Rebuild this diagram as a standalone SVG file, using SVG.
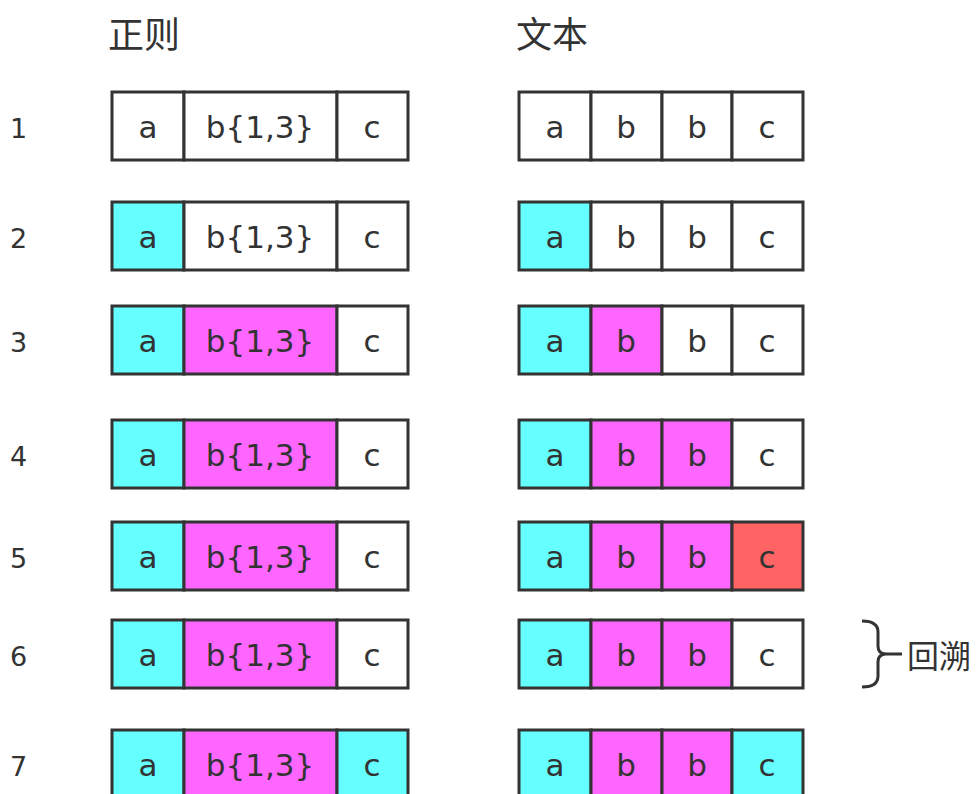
<svg xmlns="http://www.w3.org/2000/svg" width="979" height="794" viewBox="0 0 979 794">
<style>
.t{font-family:"DejaVu Sans","Noto Sans CJK SC",sans-serif;fill:#333;}
.h{font-size:36px;font-family:"Noto Sans CJK SC",sans-serif;}
.n{font-size:27px;}
.c{font-size:31px;text-anchor:middle;}
.b{stroke:#333;stroke-width:3;}
.w{fill:#fff}.cy{fill:#66ffff}.mg{fill:#ff66ff}.rd{fill:#ff6363}
</style>
<rect width="979" height="794" fill="#fff"/>
<text class="t h" x="108" y="48">正则</text>
<text class="t h" x="516" y="48">文本</text>
<g id="row1" transform="translate(0,92)">
<text class="t n" x="10" y="46">1</text>
<rect class="b w" x="112" y="0" width="72" height="68"/><rect class="b w" x="184" y="0" width="153" height="68"/><rect class="b w" x="337" y="0" width="71" height="68"/>
<text class="t c" x="148" y="46">a</text><text class="t c" x="260" y="46">b{1,3}</text><text class="t c" x="372" y="46">c</text>
<rect class="b w" x="519" y="0" width="72" height="68"/><rect class="b w" x="591" y="0" width="71" height="68"/><rect class="b w" x="662" y="0" width="70" height="68"/><rect class="b w" x="732" y="0" width="71" height="68"/>
<text class="t c" x="555" y="46">a</text><text class="t c" x="626" y="46">b</text><text class="t c" x="697" y="46">b</text><text class="t c" x="767" y="46">c</text>
</g>
<g id="row2" transform="translate(0,202)">
<text class="t n" x="10" y="46">2</text>
<rect class="b cy" x="112" y="0" width="72" height="68"/><rect class="b w" x="184" y="0" width="153" height="68"/><rect class="b w" x="337" y="0" width="71" height="68"/>
<text class="t c" x="148" y="46">a</text><text class="t c" x="260" y="46">b{1,3}</text><text class="t c" x="372" y="46">c</text>
<rect class="b cy" x="519" y="0" width="72" height="68"/><rect class="b w" x="591" y="0" width="71" height="68"/><rect class="b w" x="662" y="0" width="70" height="68"/><rect class="b w" x="732" y="0" width="71" height="68"/>
<text class="t c" x="555" y="46">a</text><text class="t c" x="626" y="46">b</text><text class="t c" x="697" y="46">b</text><text class="t c" x="767" y="46">c</text>
</g>
<g id="row3" transform="translate(0,306)">
<text class="t n" x="10" y="46">3</text>
<rect class="b cy" x="112" y="0" width="72" height="68"/><rect class="b mg" x="184" y="0" width="153" height="68"/><rect class="b w" x="337" y="0" width="71" height="68"/>
<text class="t c" x="148" y="46">a</text><text class="t c" x="260" y="46">b{1,3}</text><text class="t c" x="372" y="46">c</text>
<rect class="b cy" x="519" y="0" width="72" height="68"/><rect class="b mg" x="591" y="0" width="71" height="68"/><rect class="b w" x="662" y="0" width="70" height="68"/><rect class="b w" x="732" y="0" width="71" height="68"/>
<text class="t c" x="555" y="46">a</text><text class="t c" x="626" y="46">b</text><text class="t c" x="697" y="46">b</text><text class="t c" x="767" y="46">c</text>
</g>
<g id="row4" transform="translate(0,420)">
<text class="t n" x="10" y="46">4</text>
<rect class="b cy" x="112" y="0" width="72" height="68"/><rect class="b mg" x="184" y="0" width="153" height="68"/><rect class="b w" x="337" y="0" width="71" height="68"/>
<text class="t c" x="148" y="46">a</text><text class="t c" x="260" y="46">b{1,3}</text><text class="t c" x="372" y="46">c</text>
<rect class="b cy" x="519" y="0" width="72" height="68"/><rect class="b mg" x="591" y="0" width="71" height="68"/><rect class="b mg" x="662" y="0" width="70" height="68"/><rect class="b w" x="732" y="0" width="71" height="68"/>
<text class="t c" x="555" y="46">a</text><text class="t c" x="626" y="46">b</text><text class="t c" x="697" y="46">b</text><text class="t c" x="767" y="46">c</text>
</g>
<g id="row5" transform="translate(0,522)">
<text class="t n" x="10" y="46">5</text>
<rect class="b cy" x="112" y="0" width="72" height="68"/><rect class="b mg" x="184" y="0" width="153" height="68"/><rect class="b w" x="337" y="0" width="71" height="68"/>
<text class="t c" x="148" y="46">a</text><text class="t c" x="260" y="46">b{1,3}</text><text class="t c" x="372" y="46">c</text>
<rect class="b cy" x="519" y="0" width="72" height="68"/><rect class="b mg" x="591" y="0" width="71" height="68"/><rect class="b mg" x="662" y="0" width="70" height="68"/><rect class="b rd" x="732" y="0" width="71" height="68"/>
<text class="t c" x="555" y="46">a</text><text class="t c" x="626" y="46">b</text><text class="t c" x="697" y="46">b</text><text class="t c" x="767" y="46">c</text>
</g>
<g id="row6" transform="translate(0,620)">
<text class="t n" x="10" y="46">6</text>
<rect class="b cy" x="112" y="0" width="72" height="68"/><rect class="b mg" x="184" y="0" width="153" height="68"/><rect class="b w" x="337" y="0" width="71" height="68"/>
<text class="t c" x="148" y="46">a</text><text class="t c" x="260" y="46">b{1,3}</text><text class="t c" x="372" y="46">c</text>
<rect class="b cy" x="519" y="0" width="72" height="68"/><rect class="b mg" x="591" y="0" width="71" height="68"/><rect class="b mg" x="662" y="0" width="70" height="68"/><rect class="b w" x="732" y="0" width="71" height="68"/>
<text class="t c" x="555" y="46">a</text><text class="t c" x="626" y="46">b</text><text class="t c" x="697" y="46">b</text><text class="t c" x="767" y="46">c</text>
</g>
<g id="row7" transform="translate(0,730)">
<text class="t n" x="10" y="46">7</text>
<rect class="b cy" x="112" y="0" width="72" height="68"/><rect class="b mg" x="184" y="0" width="153" height="68"/><rect class="b cy" x="337" y="0" width="71" height="68"/>
<text class="t c" x="148" y="46">a</text><text class="t c" x="260" y="46">b{1,3}</text><text class="t c" x="372" y="46">c</text>
<rect class="b cy" x="519" y="0" width="72" height="68"/><rect class="b mg" x="591" y="0" width="71" height="68"/><rect class="b mg" x="662" y="0" width="70" height="68"/><rect class="b cy" x="732" y="0" width="71" height="68"/>
<text class="t c" x="555" y="46">a</text><text class="t c" x="626" y="46">b</text><text class="t c" x="697" y="46">b</text><text class="t c" x="767" y="46">c</text>
</g>
<g id="backtrack">
<path d="M862 621 Q878 621 878 632 L878 646 Q878 654 886 654 Q878 654 878 662 L878 676 Q878 687 862 687 M886 654 L902 654" fill="none" stroke="#333" stroke-width="3"/>
<text class="t" x="907" y="668" font-size="32" font-family="Noto Sans CJK SC, sans-serif">回溯</text>
</g>
</svg>
